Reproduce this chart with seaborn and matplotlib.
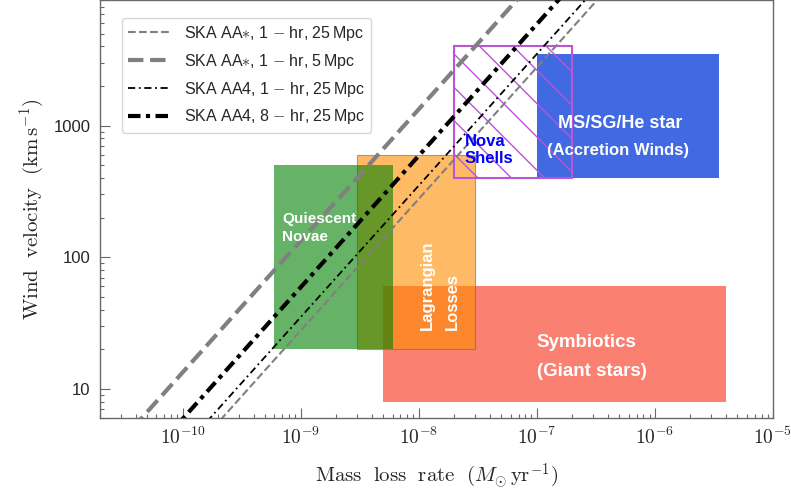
import numpy as np
import pandas as pd
import matplotlib
matplotlib.use("Agg")
import matplotlib.pyplot as plt
from matplotlib.patches import Rectangle
from matplotlib.ticker import FixedLocator, FixedFormatter, FuncFormatter
import seaborn as sns

# detection limits: wind velocity at the two ends of the mass loss range
mdot_ends = [1e-11, 1e-5]
line_labels = [r"SKA AA$\ast$, 1 $-$ hr, 25$\,$Mpc",
               r"SKA AA$\ast$, 1 $-$ hr, 5$\,$Mpc",
               r"SKA AA4, 1 $-$ hr, 25$\,$Mpc",
               r"SKA AA4, 8 $-$ hr, 25$\,$Mpc"]
v_aastar_1hr_25 = [0.277, 2.77e5]
v_aastar_1hr_5 = [1.33, 1.33e6]
v_aa4_1hr_25 = [0.35, 3.5e5]
v_aa4_8hr_25 = [0.59, 5.9e5]

# source regions: (mdot_lo, mdot_hi, v_lo, v_hi)
symbiotics = (5e-9, 4e-6, 8, 60)
ms_sg_he = (1e-7, 3.5e-6, 400, 3500)
lagrangian = (3e-9, 3e-8, 20, 600)
quiescent = (6e-10, 6e-9, 20, 500)
nova_shells = (2e-8, 2e-7, 400, 4000)

sns.set_style("ticks")
plt.rcParams["font.family"] = ["Liberation Sans", "DejaVu Sans"]
plt.rcParams["mathtext.fontset"] = "cm"

fig = plt.figure(figsize=(7.91, 4.93), dpi=100)
ax = fig.add_axes([100 / 791, 75 / 493, 673 / 791, 418 / 493])
ax.set_xscale("log")
ax.set_yscale("log")


def box(r, **kw):
    ax.add_patch(Rectangle((r[0], r[2]), r[1] - r[0], r[3] - r[2], **kw))


box(symbiotics, facecolor="salmon", edgecolor="none", zorder=1)
box(ms_sg_he, facecolor="royalblue", edgecolor="none", zorder=1)
box(lagrangian, facecolor="darkorange", edgecolor="dimgray", lw=0.8, alpha=0.6, zorder=2)
box(quiescent, facecolor="green", edgecolor="none", alpha=0.6, zorder=3)
box(nova_shells, fill=False, edgecolor="mediumorchid", hatch="\\", lw=1.5, zorder=4)

styles = [
    dict(color="gray", lw=1.5, linestyle="--"),
    dict(color="gray", lw=3.0, linestyle="--"),
    dict(color="black", lw=1.3, linestyle=(0, (4, 2, 1, 2))),
    dict(color="black", lw=3.0, linestyle=(0, (3, 1.3, 1, 1.3))),
]
series = [v_aastar_1hr_25, v_aastar_1hr_5, v_aa4_1hr_25, v_aa4_8hr_25]
for vals, lab, st in zip(series, line_labels, styles):
    df = pd.DataFrame({"mdot": mdot_ends, "v": vals})
    sns.lineplot(data=df, x="mdot", y="v", ax=ax, sort=False, estimator=None,
                 label=lab, legend=False, zorder=5, **st)
handles = ax.get_lines()

ax.set_xlim(2e-11, 1e-5)
ax.set_ylim(6, 9000)

txt = dict(color="white", fontweight="bold", zorder=6)
ax.text(7e-10, 167, "Quiescent\nNovae", fontsize=11, ha="left", va="center",
        linespacing=1.3, **txt)
ax.text(1.5e-8, 28, "Lagrangian\nLosses", fontsize=12, ha="center", va="bottom",
        rotation=90, multialignment="left", linespacing=1.85, **txt)
ax.text(2.45e-8, 650, "Nova\nShells", fontsize=12, ha="left", va="center",
        color="blue", fontweight="bold", zorder=6)
ax.text(1.52e-7, 1040, "MS/SG/He star", fontsize=13, ha="left", va="center", **txt)
ax.text(1.22e-7, 650, "(Accretion Winds)", fontsize=12, ha="left", va="center", **txt)
ax.text(1.0e-7, 22.4, "Symbiotics", fontsize=13.5, ha="left", va="center", **txt)
ax.text(1.0e-7, 13.5, "(Giant stars)", fontsize=13.5, ha="left", va="center", **txt)

ax.xaxis.set_major_locator(FixedLocator([1e-10, 1e-9, 1e-8, 1e-7, 1e-6, 1e-5]))
ax.xaxis.set_major_formatter(FuncFormatter(lambda v, p: r"$10^{%d}$" % round(np.log10(v))))
ax.yaxis.set_major_locator(FixedLocator([10, 100, 1000]))
ax.yaxis.set_major_formatter(FixedFormatter(["10", "100", "1000"]))

ax.tick_params(axis="both", which="both", direction="in", color="dimgray",
               top=False, right=False)
ax.tick_params(axis="both", which="major", length=7.5, width=0.8)
ax.tick_params(axis="both", which="minor", length=3, width=0.8)
ax.tick_params(axis="x", which="major", labelsize=14, pad=6)
ax.tick_params(axis="y", which="major", labelsize=12, pad=7)
for s in ax.spines.values():
    s.set_color("dimgray")
    s.set_linewidth(1.0)

ax.set_xlabel(r"$\mathrm{Mass\ \ loss\ \ rate\ \ (}M_{\odot}\,\mathrm{yr}^{-1}\mathrm{)}$",
              fontsize=15, labelpad=10)
ax.set_ylabel(r"$\mathrm{Wind\ \ velocity\ \ (km\,s^{-1})}$", fontsize=15, labelpad=5)

ax.legend(handles=handles, labels=line_labels, loc="upper left",
          bbox_to_anchor=(0.032, 0.958), borderaxespad=0, fontsize=11.5,
          handlelength=2.7, labelspacing=0.55, framealpha=0.8)

fig.savefig("out.png", dpi=100)
